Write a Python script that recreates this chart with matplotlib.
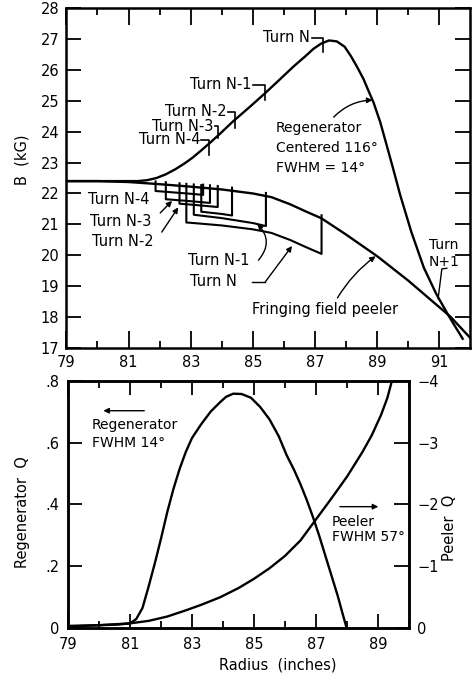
import numpy as np
import matplotlib
matplotlib.use('Agg')
import matplotlib.pyplot as plt
from matplotlib.ticker import FixedLocator

plt.rcParams['font.family'] = ['DejaVu Sans']
plt.rcParams['font.size'] = 10

## DATA
# top panel: fringing field peeler and regenerator field, B (kG) vs radius (in)
peeler_r = [79, 80, 81, 82, 83, 84, 85, 85.6, 86.2, 86.7, 87.2, 88, 89, 90, 90.5, 91, 91.35, 92]
peeler_b = [22.40, 22.40, 22.37, 22.30, 22.22, 22.13, 22.00, 21.88, 21.65, 21.42, 21.20,
            20.67, 19.97, 19.18, 18.75, 18.32, 18.02, 17.32]

regen_r = [79, 81.3, 81.6, 81.9, 82.2, 82.5, 82.8, 83.05, 83.3, 83.6, 83.94, 84.36, 84.9, 85.4,
           85.9, 86.3, 86.7, 86.95, 87.2, 87.45, 87.7, 87.95, 88.15, 88.35, 88.56, 88.75, 88.88,
           89.1, 89.28, 89.5, 89.74, 90.1, 90.5, 90.9, 91.3, 91.75]
regen_b = [22.40, 22.40, 22.43, 22.50, 22.62, 22.78, 22.97, 23.15, 23.36, 23.62, 23.93, 24.33,
           24.80, 25.25, 25.72, 26.10, 26.45, 26.68, 26.85, 26.95, 26.92, 26.75, 26.45, 26.10,
           25.70, 25.25, 24.95, 24.30, 23.65, 22.85, 21.95, 20.75, 19.60, 18.75, 18.04, 17.30]

# turn orbits (bracket shapes below the peeler curve)
turn_names = ['N-5', 'N-4', 'N-3', 'N-2', 'N-1', 'N']
turn_left = [81.87, 82.20, 82.64, 83.34, 83.10, 82.86]
turn_right = [83.40, 83.62, 83.87, 84.33, 85.42, 87.21]
turn_depth_left = [0.23, 0.47, 0.58, 0.78, 0.90, 1.17]
turn_depth_right = [0.23, 0.47, 0.58, 0.80, 0.97, 1.15]

# turn markers on the regenerator curve
mark_names = ['Turn N-4', 'Turn N-3', 'Turn N-2', 'Turn N-1', 'Turn N']
mark_r = [83.58, 83.88, 84.42, 85.39, 87.25]
mark_top = [23.74, 24.17, 24.65, 25.52, 27.03]
mark_bot = [23.26, 23.80, 24.13, 25.03, 26.59]
mark_text_end = [83.30, 83.73, 84.17, 84.97, 86.85]

# bottom panel: regenerator Q (left axis) and peeler Q (right axis)
rq_r = [79.1, 80.0, 80.6, 81.0, 81.2, 81.4, 81.6, 81.8, 82.0, 82.2, 82.4, 82.6, 82.8, 83.0,
        83.3, 83.6, 83.9, 84.1, 84.33, 84.6, 84.9, 85.2, 85.5, 85.8, 86.05, 86.3, 86.5, 86.7,
        86.9, 87.1, 87.3, 87.5, 87.7, 87.85, 87.99]
rq_v = [0.008, 0.010, 0.012, 0.016, 0.030, 0.065, 0.135, 0.21, 0.29, 0.375, 0.45, 0.515, 0.57,
        0.615, 0.66, 0.70, 0.73, 0.748, 0.758, 0.757, 0.745, 0.715, 0.675, 0.62, 0.56, 0.51,
        0.465, 0.415, 0.36, 0.30, 0.235, 0.17, 0.105, 0.05, 0.0]
pq_r = [79.1, 80.0, 81.0, 81.6, 82.2, 82.8, 83.3, 83.9, 84.5, 85.0, 85.5, 86.0, 86.5, 87.0,
        87.5, 88.0, 88.5, 88.8, 89.1, 89.3, 89.45]
pq_v = [-0.03, -0.05, -0.08, -0.12, -0.19, -0.29, -0.38, -0.50, -0.65, -0.80, -0.97, -1.17,
        -1.42, -1.76, -2.10, -2.45, -2.85, -3.12, -3.45, -3.72, -4.0]

LW = 1.7
K = 'black'


def peel_at(x):
    return np.interp(x, peeler_r, peeler_b)


def style_axes(ax):
    for s in ax.spines.values():
        s.set_linewidth(1.8)
    ax.tick_params(which='both', direction='in', top=True, right=True, width=1.3)
    ax.tick_params(which='major', length=10)
    ax.tick_params(which='minor', length=5)


fig = plt.figure(figsize=(4.74, 6.78), dpi=100)

## TOP PANEL
ax = fig.add_axes([0.140, 0.4867, 0.8525, 0.5015])
ax.set_xlim(79, 92)
ax.set_ylim(17, 28)
ax.plot(peeler_r, peeler_b, color=K, lw=LW)
ax.plot(regen_r, regen_b, color=K, lw=LW)

for l, r, dl, dr in zip(turn_left, turn_right, turn_depth_left, turn_depth_right):
    xs = [l] + [p for p in peeler_r if l < p < r] + [r]
    depth = np.interp(xs, [l, r], [dl, dr])
    bottom = peel_at(xs) - depth
    px = [l] + xs + [r]
    py = [peel_at(l) + 0.08] + list(bottom) + [peel_at(r) + 0.1]
    ax.plot(px, py, color=K, lw=1.5, solid_joinstyle='round')

for name, x, yt, yb, xe in zip(mark_names, mark_r, mark_top, mark_bot, mark_text_end):
    ax.plot([xe + 0.04, x, x], [yt, yt, yb], color=K, lw=1.2)
    ax.text(xe, yt, name, ha='right', va='center', fontsize=10.5)

# labels for the turn orbits
ax.text(79.69, 21.80, 'Turn N-4', ha='left', va='center', fontsize=10.5)
ax.text(79.76, 21.08, 'Turn N-3', ha='left', va='center', fontsize=10.5)
ax.text(79.82, 20.44, 'Turn N-2', ha='left', va='center', fontsize=10.5)
arw = dict(arrowstyle='-|>', color=K, lw=1.0, mutation_scale=8, shrinkA=0, shrinkB=0)
ax.annotate('', xy=(82.40, 21.76), xytext=(82.02, 21.37), arrowprops=arw)
ax.annotate('', xy=(82.60, 21.55), xytext=(82.07, 20.75), arrowprops=arw)

ax.text(82.92, 19.84, 'Turn N-1', ha='left', va='center', fontsize=10.5)
ax.annotate('', xy=(85.14, 21.02), xytext=(85.18, 19.84),
            arrowprops=dict(arw, connectionstyle='arc3,rad=0.45'))
ax.text(82.98, 19.14, 'Turn N', ha='left', va='center', fontsize=10.5)
ax.plot([84.97, 85.40], [19.14, 19.14], color=K, lw=1.0)
ax.annotate('', xy=(86.26, 20.30), xytext=(85.40, 19.14), arrowprops=arw)

ax.text(84.97, 18.23, 'Fringing field peeler', ha='left', va='center', fontsize=10.5)
ax.annotate('', xy=(88.95, 19.97), xytext=(87.72, 18.62),
            arrowprops=dict(arw, connectionstyle='arc3,rad=-0.1'))

ax.text(85.73, 24.12, 'Regenerator', ha='left', va='center', fontsize=10)
ax.text(85.73, 23.47, 'Centered 116°', ha='left', va='center', fontsize=10)
ax.text(85.73, 22.82, 'FWHM = 14°', ha='left', va='center', fontsize=10)
ax.annotate('', xy=(88.85, 25.02), xytext=(87.60, 24.47),
            arrowprops=dict(arw, connectionstyle='arc3,rad=-0.2'))

ax.text(91.15, 20.33, 'Turn', ha='center', va='center', fontsize=10)
ax.text(91.15, 19.79, 'N+1', ha='center', va='center', fontsize=10)
ax.plot([91.24, 91.08, 90.96], [19.58, 19.56, 18.60], color=K, lw=1.0)

ax.xaxis.set_major_locator(FixedLocator([79, 81, 83, 85, 87, 89, 91]))
ax.xaxis.set_minor_locator(FixedLocator([80, 82, 84, 86, 88, 90]))
ax.yaxis.set_major_locator(FixedLocator(list(range(17, 29))))
ax.set_xticklabels(['79', '81', '83', '85', '87', '89', '91'])
style_axes(ax)
ax.tick_params(axis='x', which='major', length=12)
ax.tick_params(axis='y', which='major', length=11)
ax.tick_params(axis='both', labelsize=10.5, pad=5)
fig.text(21.7 / 474, 1 - 160 / 678, 'B  (kG)', rotation=90, ha='center', va='center', fontsize=10.5)

## BOTTOM PANEL
bx = fig.add_axes([0.1435, 0.0733, 0.7194, 0.3652])
bx.set_xlim(79, 90)
bx.set_ylim(0, 0.8)
bx.plot(rq_r, rq_v, color=K, lw=LW)
bx.xaxis.set_major_locator(FixedLocator([79, 81, 83, 85, 87, 89]))
bx.xaxis.set_minor_locator(FixedLocator([80, 82, 84, 86, 88, 90]))
bx.yaxis.set_major_locator(FixedLocator([0, 0.2, 0.4, 0.6, 0.8]))
bx.set_yticklabels(['0', '.2', '.4', '.6', '.8'])
bx.set_xticklabels(['79', '81', '83', '85', '87', '89'])
style_axes(bx)
bx.tick_params(axis='both', labelsize=10.5, pad=6)
bx.tick_params(axis='y', right=False)

bx2 = bx.twinx()
bx2.set_ylim(0, -4)
bx2.plot(pq_r, pq_v, color=K, lw=LW)
bx2.yaxis.set_major_locator(FixedLocator([0, -1, -2, -3, -4]))
bx2.set_yticklabels(['0', '\u22121', '\u22122', '\u22123', '\u22124'])
bx2.tick_params(axis='y', direction='in', length=11, width=1.3, labelsize=10.5, pad=6)
for s in bx2.spines.values():
    s.set_linewidth(1.8)

bx.annotate('', xy=(80.14, 0.703), xytext=(81.46, 0.703), arrowprops=arw)
bx.text(79.77, 0.657, 'Regenerator', ha='left', va='center', fontsize=10)
bx.text(79.77, 0.598, 'FWHM 14°', ha='left', va='center', fontsize=10)
bx.annotate('', xy=(89.01, 0.393), xytext=(87.77, 0.393), arrowprops=arw)
bx.text(87.50, 0.344, 'Peeler', ha='left', va='center', fontsize=10)
bx.text(87.50, 0.296, 'FWHM 57°', ha='left', va='center', fontsize=10)

fig.text(23 / 474, 1 - 512 / 678, 'Regenerator  Q', rotation=90, ha='center', va='center', fontsize=10.5)
fig.text(450 / 474, 1 - 528 / 678, 'Peeler  Q', rotation=90, ha='center', va='center', fontsize=10.5)
fig.text(277.5 / 474, 1 - 665 / 678, 'Radius  (inches)', ha='center', va='center', fontsize=10.5)

fig.savefig('out.png', dpi=100, facecolor='white')
